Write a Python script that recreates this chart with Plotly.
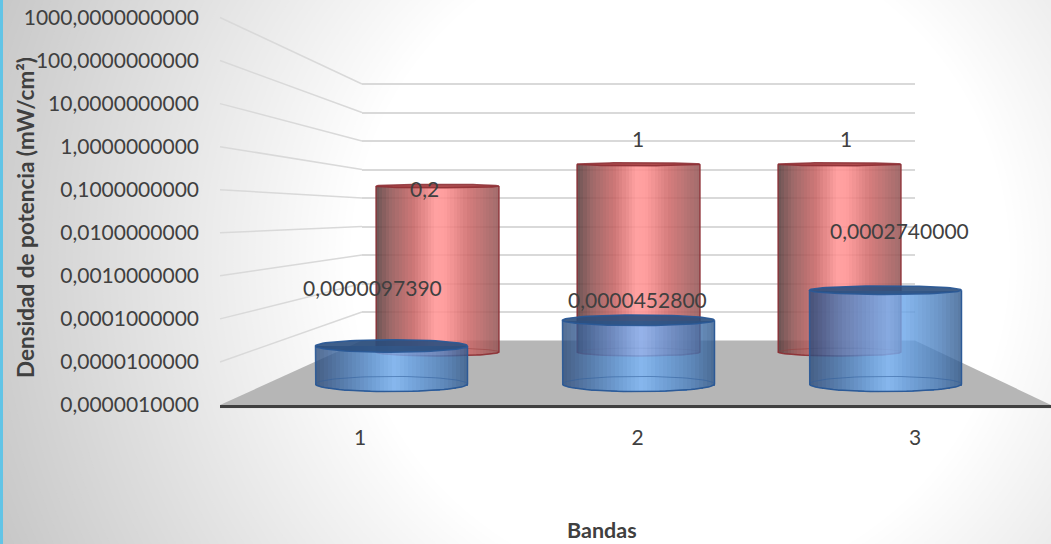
import numpy as np
import plotly.graph_objects as go

W, H = 1051, 544

# ---- data ----
categories = [1, 2, 3]
blue_values = [0.000009739, 0.00004528, 0.000274]
red_values = [0.2, 1, 1]
blue_labels = ["0,0000097390", "0,0000452800", "0,0002740000"]
red_labels = ["0,2", "1", "1"]
tick_values = [1e-6, 1e-5, 1e-4, 1e-3, 1e-2, 1e-1, 1, 10, 100, 1000]
tick_labels = ["0,0000010000", "0,0000100000", "0,0001000000", "0,0010000000",
               "0,0100000000", "0,1000000000", "1,0000000000", "10,0000000000",
               "100,0000000000", "1000,0000000000"]
y_title = "Densidad de potencia (mW/cm²)"
x_title = "Bandas"

FONT = "Lato"
TXT = "#404040"
def px(x): return x / W
def py(y): return 1 - y / H

LOG_MIN, LOG_MAX = -6, 3
# front plane, back wall, red row and blue row of the 3D box (pixels)
FRONT = dict(bottom=405, top=17.5, left=220, right=1051)
BACK = dict(bottom=340.5, top=84, left=362, right=915)
RED = dict(base=352, scale=31.3, cx2=638.5, unit=201, width=123, extra=10)
BLUE = dict(base=384, scale=38.5, cx2=638.5, unit=247, width=152, extra=12)

fig = go.Figure()

def x_range(row):
    return [2 - (row["cx2"] - 220) / row["unit"], 2 + (1051 - row["cx2"]) / row["unit"]]

def lerp_stops(stops, u):
    xs = [s[0] for s in stops]
    return [np.interp(u, xs, [s[1][k] for s in stops]) for k in range(3)]

RED_STOPS = [(0, (84, 56, 56)), (0.12, (142, 80, 80)), (0.3, (196, 96, 96)), (0.48, (255, 145, 145)),
             (0.56, (255, 142, 142)), (0.75, (205, 103, 103)), (1, (146, 84, 84))]
BLUE_STOPS = [(0, (42, 74, 122)), (0.2, (68, 116, 176)), (0.42, (104, 164, 232)), (0.52, (124, 184, 252)),
              (0.62, (104, 164, 232)), (0.85, (72, 124, 186)), (1, (48, 88, 138))]

def half_h(row, log_v):
    h = (log_v - LOG_MIN) * row["scale"]
    if row is RED:
        return max(1.5, 4 - 0.0133 * h)
    return max(4.2, 7.6 - 0.035 * h)

def ellipse(row, c, log_v, t):
    hw = row["width"] / row["unit"] / 2
    hh = half_h(row, log_v) / row["scale"]
    return c + hw * np.cos(t), 10 ** (log_v + hh * np.sin(t))

def draw_row(row, values, xa, ya, stops, alpha, edge, cap, base_line):
    w = row["width"] / row["unit"]
    n = 38
    bh = half_h(row, LOG_MIN) / row["scale"]
    for i in range(n):
        u = (i + 0.5) / n
        r, g, b = lerp_stops(stops, u)
        base = 10 ** (LOG_MIN - bh * np.sqrt(max(0, 1 - (2 * u - 1) ** 2)))
        fig.add_trace(go.Bar(
            x=categories, y=[v - base for v in values], base=[base] * 3,
            width=w / n, offset=-w / 2 + i * w / n,
            marker=dict(color=f"rgba({r:.0f},{g:.0f},{b:.0f},{alpha})", line=dict(width=0)),
            xaxis=xa, yaxis=ya, showlegend=False, hoverinfo="skip"))
    for c, v in zip(categories, values):
        lv = np.log10(v)
        t = np.linspace(0, 2 * np.pi, 80)
        # top cap
        ex, ey = ellipse(row, c, lv, t)
        fig.add_trace(go.Scatter(x=ex, y=ey, mode="lines", fill="toself", fillcolor=cap,
                                 line=dict(color=edge, width=1.5), xaxis=xa, yaxis=ya,
                                 showlegend=False, hoverinfo="skip", cliponaxis=False))
        # base ring and silhouette
        bx, by = ellipse(row, c, LOG_MIN, t)
        fig.add_trace(go.Scatter(x=bx, y=by, mode="lines", line=dict(color=base_line, width=1),
                                 xaxis=xa, yaxis=ya, showlegend=False, hoverinfo="skip", cliponaxis=False))
        t2 = np.linspace(np.pi, 2 * np.pi, 40)
        lx, ly = ellipse(row, c, LOG_MIN, t2)
        sx = np.concatenate([[c - w / 2], lx, [c + w / 2]])
        sy = np.concatenate([[v], ly, [v]])
        fig.add_trace(go.Scatter(x=sx, y=sy, mode="lines", line=dict(color=edge, width=1.5),
                                 xaxis=xa, yaxis=ya, showlegend=False, hoverinfo="skip", cliponaxis=False))

# x/y: front plane (holds tick labels) ; x2/y2: back wall grid
fig.add_trace(go.Scatter(x=categories, y=[None] * 3, xaxis="x", yaxis="y", showlegend=False))
fig.add_trace(go.Scatter(x=[0, 1], y=[None, None], xaxis="x2", yaxis="y2", showlegend=False))
draw_row(RED, red_values, "x3", "y3", RED_STOPS, 0.86, "rgba(140,45,50,0.85)", "rgba(165,65,68,0.9)", "rgba(150,60,60,0.5)")
draw_row(BLUE, blue_values, "x4", "y4", BLUE_STOPS, 0.8, "rgba(42,88,150,0.95)", "rgba(42,78,125,0.9)", "rgba(50,95,155,0.55)")

shapes = []
# radial background
cx, cy, r0, r1 = 680, 260, 330, 680
for g in range(190, 256):
    r = r0 + (255 - g) / 48 * (r1 - r0)
    shapes.append(dict(type="circle", xref="paper", yref="paper", layer="below",
                       x0=px(cx - r), x1=px(cx + r), y0=py(cy + r), y1=py(cy - r),
                       fillcolor=f"rgb({g},{g},{g})", line=dict(width=0)))
# blue strip on the left
shapes.append(dict(type="rect", xref="paper", yref="paper", layer="below", x0=0, x1=px(3), y0=0, y1=1,
                   fillcolor="#62c4e6", line=dict(width=0)))
# floor
floor = (f"M {px(220)} {py(405)} L {px(362)} {py(BACK['bottom'])} L {px(915)} {py(BACK['bottom'])} L {px(1051)} {py(405)} Z")
shapes.append(dict(type="path", xref="paper", yref="paper", layer="below", path=floor,
                   fillcolor="#b6b6b6", line=dict(width=0)))
# side wall gridlines
for tv in tick_values[1:]:
    frac = (np.log10(tv) - LOG_MIN) / (LOG_MAX - LOG_MIN)
    yf = FRONT["bottom"] + frac * (FRONT["top"] - FRONT["bottom"])
    yb = BACK["bottom"] + frac * (BACK["top"] - BACK["bottom"])
    shapes.append(dict(type="line", xref="paper", yref="paper", layer="below",
                       x0=px(220), x1=px(362), y0=py(yf), y1=py(yb),
                       line=dict(color="#d9d9d9", width=1.5)))
# faint shadow under the axis
shapes.append(dict(type="line", xref="paper", yref="paper", layer="below", x0=px(220), x1=1,
                   y0=py(407.5), y1=py(407.5), line=dict(color="#cfcfcf", width=1.5)))

anns = []
def lab(text, x, y):
    anns.append(dict(text=text, x=px(x), y=py(y), xref="paper", yref="paper", showarrow=False,
                     xanchor="center", yanchor="middle", font=dict(family=FONT, size=21, color=TXT)))
for t, (x, y) in zip(red_labels, [(424, 188.5), (638, 138), (846, 138)]):
    lab(t, x, y)
for t, (x, y) in zip(blue_labels, [(372, 287), (637, 299), (899, 230.5)]):
    lab(t, x, y)
anns.append(dict(text=y_title, x=px(25), y=py(218), xref="paper", yref="paper", showarrow=False, textangle=-90,
                 xanchor="center", yanchor="middle", font=dict(family=FONT, size=22.5, color=TXT, weight="bold")))
anns.append(dict(text=x_title, x=px(602), y=py(530), xref="paper", yref="paper", showarrow=False,
                 xanchor="center", yanchor="middle", font=dict(family=FONT, size=21.5, color=TXT, weight="bold")))

xdom = [px(220), 1]
hidden = dict(showgrid=False, zeroline=False, showticklabels=False, showline=False, ticks="",
              fixedrange=True, automargin=False)
row_y = lambda row: dict(
    type="log", domain=[py(row["base"] + row["extra"]), py(row["base"] - (LOG_MAX - LOG_MIN) * row["scale"])],
    range=[LOG_MIN - row["extra"] / row["scale"], LOG_MAX], **hidden)
back_scale = (BACK["bottom"] - BACK["top"]) / (LOG_MAX - LOG_MIN)

fig.update_layout(
    width=W, height=H, autosize=False,
    margin=dict(l=0, r=0, t=0, b=0),
    paper_bgcolor="#c6c6c6", plot_bgcolor="rgba(0,0,0,0)",
    showlegend=False, barmode="overlay", bargap=0, bargroupgap=0, shapes=shapes, annotations=anns,
    xaxis=dict(domain=xdom, range=[1 - 140 / 277.5, 3 + 136 / 277.5], tickvals=categories,
               ticktext=[str(c) for c in categories], showgrid=False, zeroline=False, automargin=False,
               showline=True, linecolor="#404040", linewidth=3, ticks="",
               ticklabelstandoff=12, tickfont=dict(family=FONT, size=21, color=TXT), anchor="y"),
    yaxis=dict(type="log", domain=[py(FRONT["bottom"]), py(FRONT["top"])], range=[LOG_MIN, LOG_MAX],
               tickvals=tick_values, ticktext=tick_labels, showgrid=False, zeroline=False, showline=False,
               automargin=False, ticks="", ticklabelstandoff=20,
               tickfont=dict(family=FONT, size=21, color=TXT), anchor="x"),
    xaxis2=dict(domain=[px(BACK["left"]), px(BACK["right"])], range=[0, 1], anchor="y2", **hidden),
    yaxis2=dict(type="log", domain=[py(BACK["bottom"]), py(BACK["top"] - 5)],
                range=[LOG_MIN, LOG_MAX + 5 / back_scale], automargin=False,
                tickvals=tick_values, showgrid=True, gridcolor="#d9d9d9", gridwidth=1.5, zeroline=False,
                showticklabels=False, ticks="", anchor="x2"),
    xaxis3=dict(domain=xdom, range=x_range(RED), anchor="y3", **hidden),
    yaxis3=dict(anchor="x3", **row_y(RED)),
    xaxis4=dict(domain=xdom, range=x_range(BLUE), anchor="y4", **hidden),
    yaxis4=dict(anchor="x4", **row_y(BLUE)),
)
fig.write_html("out.html", config=dict(displayModeBar=False),
               post_script="document.body.style.margin='0';")
